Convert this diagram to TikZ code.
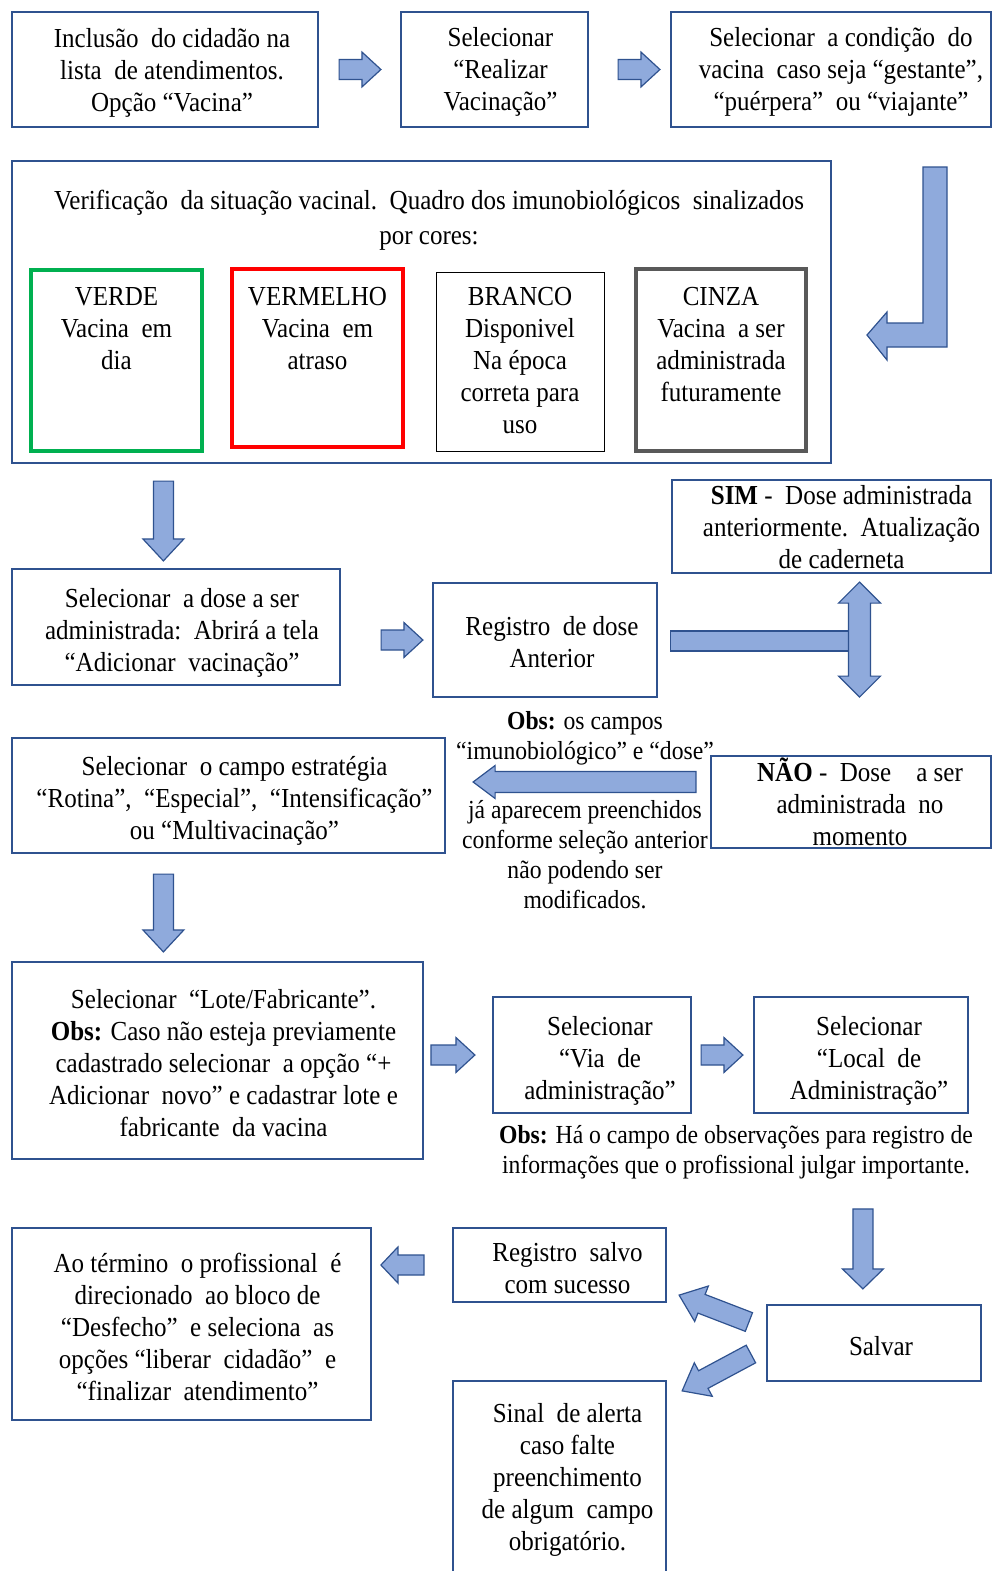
\documentclass[tikz,border=0pt]{standalone}
\usepackage{fontspec}
\setmainfont{Liberation Serif}[FakeStretch=0.91]
\usetikzlibrary{calc}

\definecolor{boxline}{RGB}{47,82,143}
\definecolor{arrowfill}{RGB}{143,170,220}
\definecolor{arrowline}{RGB}{47,82,143}
\definecolor{okgreen}{RGB}{0,176,80}
\definecolor{lategray}{RGB}{89,89,89}

\newcommand\txt{\fontsize{27.5}{32}\selectfont}
\newcommand\obstxt{\fontsize{26}{30}\selectfont}

\tikzset{
  box/.style={draw=boxline, line width=2.2pt, inner sep=0pt, fill=white},
  blockarrow/.style={draw=arrowline, fill=arrowfill, line width=1.2pt, line join=miter},
  colorbox/.style={line width=4pt, inner sep=0pt, outer sep=0pt},
  lbl/.style={align=center, inner sep=0pt, font=\txt},
}

% framed box given by its corners, with its text placed at an offset from the centre:
% {name}{x1}{y1}{x2}{y2}{dx,dy}{text}
\newcommand\bx[7]{%
  \node[box, minimum width={(#4-#2)*1pt}, minimum height={(#5-#3)*1pt}]
    (#1) at ({(#2+#4)/2},{(#3+#5)/2}) {};
  \node[lbl] (#1T) at ($(#1.center)+(#6)$) {#7};}

% block arrow from tail to tip: {tail}{tip}{shaft half width}{head half width}{head length}
\newcommand\barrow[5]{%
  \path #1 coordinate (baTail) #2 coordinate (baTip);
  \pgfpointdiff{\pgfpointanchor{baTail}{center}}{\pgfpointanchor{baTip}{center}}%
  \pgfgetlastxy{\baDX}{\baDY}%
  \pgfmathsetmacro\baAng{atan2(\baDY,\baDX)}%
  \pgfmathsetmacro\baLen{veclen(\baDX,\baDY)}%
  \draw[blockarrow, shift={(baTail)}, rotate=\baAng]
    (0,-#3) -- ({\baLen-#5},-#3) -- ({\baLen-#5},-#4) -- (\baLen,0)
    -- ({\baLen-#5},#4) -- ({\baLen-#5},#3) -- (0,#3) -- cycle;}

% block arrow with a head at both ends
\newcommand\dbarrow[5]{%
  \path #1 coordinate (baTail) #2 coordinate (baTip);
  \pgfpointdiff{\pgfpointanchor{baTail}{center}}{\pgfpointanchor{baTip}{center}}%
  \pgfgetlastxy{\baDX}{\baDY}%
  \pgfmathsetmacro\baAng{atan2(\baDY,\baDX)}%
  \pgfmathsetmacro\baLen{veclen(\baDX,\baDY)}%
  \draw[blockarrow, shift={(baTail)}, rotate=\baAng]
    (0,0) -- (#5,#4) -- (#5,#3) -- ({\baLen-#5},#3) -- ({\baLen-#5},#4) -- (\baLen,0)
    -- ({\baLen-#5},-#4) -- ({\baLen-#5},-#3) -- (#5,-#3) -- (#5,-#4) -- cycle;}

\begin{document}
\begin{tikzpicture}[x=1pt,y=-1pt]
\fill[white] (0,0) rectangle (993,1571);
\useasboundingbox (0,0) rectangle (993,1571);

% --- first row
\bx{b1}{12}{12}{318}{127}{7,3}{Inclusão\ \ do cidadão na\\lista\ \ de atendimentos.\\Opção “Vacina”}
\bx{b2}{401}{12}{588}{127}{6,2.5}{Selecionar\\“Realizar\\Vacinação”}
\bx{b3}{671}{12}{991}{127}{10,2.5}{Selecionar\ \ a condição\ \ do\\vacina\ \ caso seja “gestante”,\\“puérpera”\ \ ou “viajante”}

% --- vaccination status panel
\node[box, minimum width=819pt, minimum height=302pt] (bigbox) at (421.5,312) {};
\node[lbl, font=\fontsize{27.5}{35}\selectfont] (bigT) at (429,220)
  {Verificação\ \ da situação vacinal.\ \ Quadro dos imunobiológicos\ \ sinalizados\\por cores:};

\node[colorbox, draw=okgreen, minimum width=171pt, minimum height=181pt] (verde) at (116.5,360.5) {};
\node[colorbox, draw=red, minimum width=171pt, minimum height=178pt] (vermelho) at (317.5,358) {};
\node[colorbox, draw=black, line width=1pt, minimum width=168pt, minimum height=179pt] (branco) at (520,361.5) {};
\node[colorbox, draw=lategray, minimum width=170pt, minimum height=182pt] (cinza) at (721,360) {};

\node[lbl, anchor=north] (verdeT) at ([yshift=-17]verde.north) {VERDE\\Vacina\ \ em\\dia};
\node[lbl, anchor=north] (vermelhoT) at ([yshift=-18]vermelho.north) {VERMELHO\\Vacina\ \ em\\atraso};
\node[lbl, anchor=north] (brancoT) at ([yshift=-15]branco.north) {BRANCO\\Disponivel\\Na época\\correta para\\uso};
\node[lbl, anchor=north] (cinzaT) at ([yshift=-18]cinza.north) {CINZA\\Vacina\ \ a ser\\administrada\\futuramente};

% --- dose selection
\bx{b4}{12}{569}{340}{685}{6,5.5}{Selecionar\ \ a dose a ser\\administrada:\ \ Abrirá a tela\\“Adicionar\ \ vacinação”}
\bx{b5}{433}{583}{657}{697}{7,2}{Registro\ \ de dose\\Anterior}
\bx{sim}{672}{480}{991}{573}{10,1}{\textbf{SIM} -\ \ Dose administrada\\anteriormente.\ \ Atualização\\de caderneta}
\bx{nao}{711}{756}{991}{848}{9,0}{\textbf{NÃO} -\ \ Dose\ \ \ \ a ser\\administrada\ \ no\\momento}
\bx{b6}{12}{738}{445}{853}{6,5}{Selecionar\ \ o campo estratégia\\“Rotina”,\ \ “Especial”,\ \ “Intensificação”\\ou “Multivacinação”}

\node[lbl, font=\obstxt] (obsA) at (585,738) {\textbf{Obs:} os campos\\“imunobiológico” e “dose”};
\node[lbl, font=\obstxt] (obsB) at (585,855) {já aparecem preenchidos\\conforme seleção anterior\\não podendo ser\\modificados.};

% --- batch, route and site
\bx{b7}{12}{962}{423}{1159}{6,3}{Selecionar\ \ “Lote/Fabricante”.\\\textbf{Obs:} Caso não esteja previamente\\cadastrado selecionar\ \ a opção “+\\Adicionar\ \ novo” e cadastrar lote e\\fabricante\ \ da vacina}
\bx{b8}{493}{997}{691}{1113}{8,6}{Selecionar\\“Via\ \ de\\administração”}
\bx{b9}{754}{997}{968}{1113}{8,6}{Selecionar\\“Local\ \ de\\Administração”}
\node[lbl, font=\obstxt] (obs2) at (736,1152) {\textbf{Obs:} Há o campo de observações para registro de\\informações que o profissional julgar importante.};

% --- saving and closing
\bx{salvar}{767}{1305}{981}{1381}{7,3}{Salvar}
\bx{reg}{453}{1228}{666}{1302}{8,3.5}{Registro\ \ salvo\\com sucesso}
\bx{fim}{12}{1228}{371}{1420}{6,3}{Ao término\ \ o profissional\ \ é\\direcionado\ \ ao bloco de\\“Desfecho”\ \ e seleciona\ \ as\\opções “liberar\ \ cidadão”\ \ e\\“finalizar\ \ atendimento”}
\bx{alerta}{453}{1381}{666}{1580}{8,-1}{Sinal\ \ de alerta\\caso falte\\preenchimento\\de algum\ \ campo\\obrigatório.}

% --- block arrows
\barrow{($(b1.east)+(20,0)$)}{($(b2.west)+(-19,0)$)}{10}{17.5}{19}
\barrow{($(b2.east)+(29,0)$)}{($(b3.west)+(-10,0)$)}{10}{17.5}{19}

% bent arrow from the first row down into the panel
\draw[blockarrow] (923,167) -- (947,167) -- (947,347) -- (887,347) -- (887,360)
  -- (867,335) -- (887,312) -- (887,323) -- (923,323) -- cycle;

\barrow{($(bigbox.south west)+(152.5,17)$)}{($(b4.north west)+(152.5,-7)$)}{10}{20.5}{22}
\barrow{($(b4.east)+(40,13)$)}{($(b5.west)+(-9,0)$)}{10}{17.5}{19}

% bar from the previous-dose box into the yes/no double arrow
\draw[blockarrow] ($(b5.east)+(12,-9)$) rectangle ($(b5.east)+(191,11)$);
\dbarrow{($(sim.south)+(28,8)$)}{($(sim.south)+(28,123)$)}{11}{21}{21}

\barrow{($(nao.west)+(-14,-20)$)}{($(b6.east)+(27,-13.5)$)}{10.5}{16.5}{22}
\barrow{($(b6.south west)+(152.5,20)$)}{($(b7.north west)+(152.5,-9)$)}{10}{20.5}{22}

\barrow{($(b8.west)+(-61,0)$)}{($(b8.west)+(-17,0)$)}{10}{17.5}{19}
\barrow{($(b8.east)+(9,0)$)}{($(b9.west)+(-10,0)$)}{10}{17.5}{19}

\barrow{($(salvar.north west)+(97,-95)$)}{($(salvar.north west)+(97,-15)$)}{10}{20.5}{20}
\barrow{($(salvar.west)+(-17,-21)$)}{($(reg.south east)+(12,-8)$)}{10}{19}{24}
\barrow{($(salvar.west)+(-15,11)$)}{($(alerta.north east)+(15,11)$)}{10}{19}{24}
\barrow{($(reg.west)+(-28,0)$)}{($(reg.west)+(-71,0)$)}{10}{18}{17}
\end{tikzpicture}
\end{document}
